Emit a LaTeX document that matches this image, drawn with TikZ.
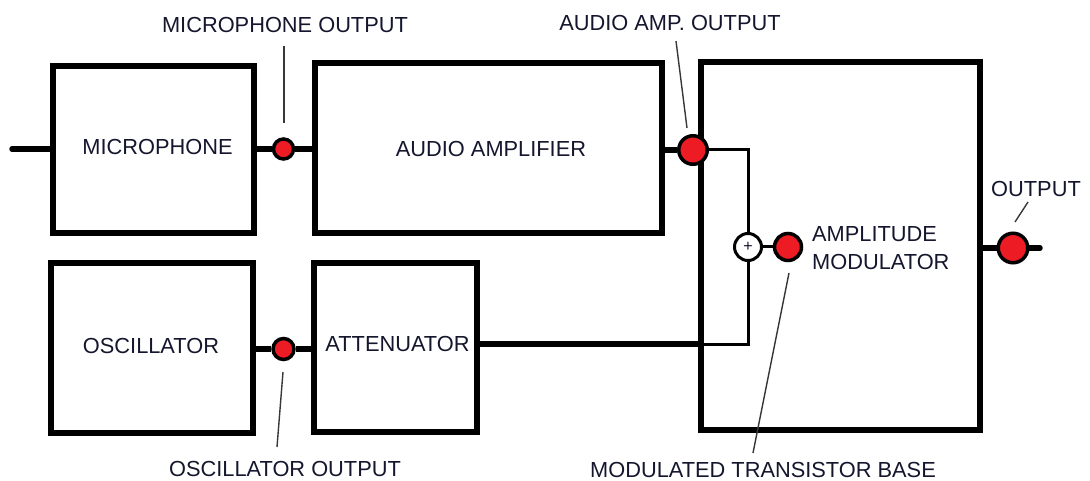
\documentclass[tikz,border=0pt]{standalone}
\usepackage{fontspec}
\setmainfont{Liberation Sans}
\definecolor{txt}{RGB}{20,22,45}
\definecolor{dotred}{RGB}{237,28,36}
\definecolor{lead}{RGB}{55,55,55}
\begin{document}
\begin{tikzpicture}[x=1pt,y=-1pt,
  block/.style={draw=black, line width=6pt, inner sep=0pt},
  lbl/.style={inner sep=0pt, text=txt, font=\fontsize{21.8}{26}\selectfont},
  thickwire/.style={line width=5.5pt},
  thinwire/.style={line width=3pt},
  dot/.style={circle, draw=black, fill=dotred, line width=3.5pt, inner sep=0pt},
  sumnode/.style={circle, draw=black, fill=white, line width=3pt, inner sep=0pt, minimum size=27pt, font=\fontsize{16}{16}\selectfont, text=txt},
  leader/.style={draw=lead, line width=1.4pt}]
\useasboundingbox (0,0) rectangle (1090,481);
% blocks
\node[block, minimum width=201pt, minimum height=167pt] (mic) at (153.5,149.5) {};
\node[block, minimum width=347pt, minimum height=170pt] (amp) at (488.5,148) {};
\node[block, minimum width=279pt, minimum height=368pt] (mod) at (840.5,246) {};
\node[block, minimum width=202pt, minimum height=170pt] (osc) at (152,348) {};
\node[block, minimum width=163pt, minimum height=169pt] (att) at (395.5,347.5) {};
% block texts
\node[lbl] (micT) at (157.5,147) {MICROPHONE};
\node[lbl] (ampT) at (491,149) {AUDIO AMPLIFIER};
\node[lbl] (oscT) at (151,346) {OSCILLATOR};
\node[lbl] (attT) at (397.5,344) {ATTENUATOR};
\node[lbl, anchor=west, align=left] (modT1) at (812,234) {AMPLITUDE};
\node[lbl, anchor=west, align=left] (modT2) at (812,262) {MODULATOR};
% dots
\node[dot, minimum size=20pt] (mo) at (283.5,149) {};
\node[dot, minimum size=21pt] (oo) at (283.5,349) {};
\node[dot, minimum size=28.5pt] (ao) at (693,150) {};
\node[dot, minimum size=27pt] (mtb) at (788,247) {};
\node[dot, minimum size=29.5pt] (out) at (1013,248) {};
\node[sumnode] (plus) at (748,247) {+};
% coordinates
\coordinate (in) at (12,149);
\coordinate (jn) at (748,344);
\coordinate (oend) at (1040,248);
% wires
\draw[thickwire, line cap=round] (in) -- (in -| mic.west);
\draw[thickwire] (mic.east |- mo) -- (mo.west);
\draw[thickwire] (mo.east) -- (mo -| amp.west);
\draw[thickwire] (osc.east |- oo) -- (oo.west);
\draw[thickwire] (oo.east) -- (oo -| att.west);
\draw[thickwire] (amp.east |- ao) -- (ao.west);
\draw[thinwire] (ao.east) -| (plus.north);
\draw[thinwire] (plus.east) -- (mtb.west);
\draw[thinwire] (plus.south) |- (jn -| mod.west);
\draw[thickwire] (att.east |- jn) -- (jn -| mod.west);
\draw[thickwire] (mod.east |- out) -- (out.west);
\draw[thickwire, line cap=round] (out.east) -- (oend);
% annotation labels
\node[lbl] (moL) at (285,25) {MICROPHONE OUTPUT};
\node[lbl] (aoL) at (670,23) {AUDIO AMP. OUTPUT};
\node[lbl] (outL) at (1036,189) {OUTPUT};
\node[lbl] (ooL) at (285,469) {OSCILLATOR OUTPUT};
\node[lbl] (mtbL) at (763,470) {MODULATED TRANSISTOR BASE};
% leader lines
\coordinate (l1a) at (284,46);   \coordinate (l1b) at (284,123);
\coordinate (l2a) at (676,41);   \coordinate (l2b) at (687,128);
\coordinate (l3a) at (1028,202); \coordinate (l3b) at (1015,222);
\coordinate (l4a) at (283,372);  \coordinate (l4b) at (277,447);
\coordinate (l5a) at (789,273);  \coordinate (l5b) at (753,453);
\draw[leader] (l1a) -- (l1b);
\draw[leader] (l2a) -- (l2b);
\draw[leader] (l3a) -- (l3b);
\draw[leader] (l4a) -- (l4b);
\draw[leader] (l5a) -- (l5b);
\end{tikzpicture}
\end{document}
